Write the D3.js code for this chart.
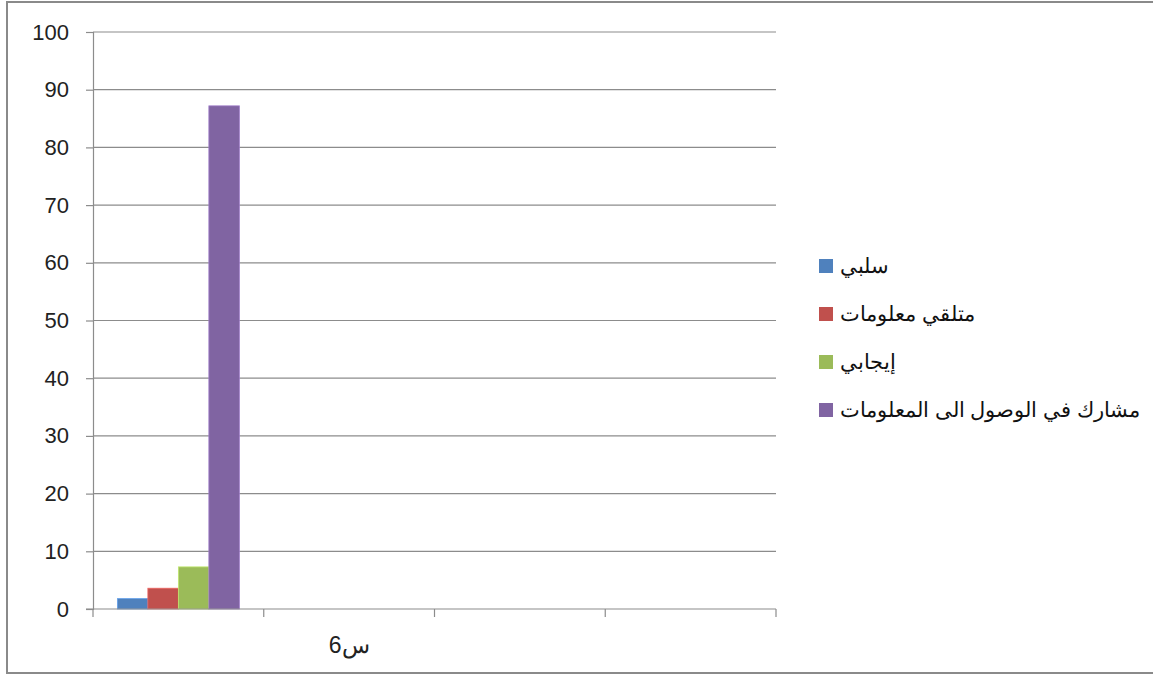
<!DOCTYPE html>
<html>
<head>
<meta charset="utf-8">
<script src="https://cdn.jsdelivr.net/npm/d3@7"></script>
<style>
  body { margin: 0; background: #fff; }
  svg { display: block; }
</style>
</head>
<body>
<svg width="1153" height="675"></svg>
<script>
// categories on the x axis (only the second one carries a label in the original)
var categories = ["", "س6", "", ""];
var seriesNames = ["سلبي", "متلقي معلومات", "إيجابي", "مشارك في الوصول الى المعلومات"];
var seriesColors = ["#4F81BD", "#C0504D", "#9BBB59", "#8064A2"];
// values of each series for the first category
var seriesValues = [1.8, 3.6, 7.3, 87.2];
var yTicks = [0, 10, 20, 30, 40, 50, 60, 70, 80, 90, 100];

var svg = d3.select("svg");

// outer chart frame
svg.append("rect")
  .attr("x", 7).attr("y", 2)
  .attr("width", 1160).attr("height", 671)
  .attr("fill", "none").attr("stroke", "#8a8a8a").attr("stroke-width", 2);

var plotLeft = 93, plotRight = 776, plotTop = 32, plotBottom = 609;

var x = d3.scaleBand().domain(d3.range(categories.length)).range([plotLeft, plotRight]).padding(0);
var y = d3.scaleLinear().domain([0, 100]).range([plotBottom, plotTop]);

// gridlines
svg.append("g").selectAll("line")
  .data(yTicks.filter(function(d) { return d > 0; }))
  .enter().append("line")
  .attr("x1", plotLeft).attr("x2", plotRight)
  .attr("y1", function(d) { return y(d); })
  .attr("y2", function(d) { return y(d); })
  .attr("stroke", "#8c8c8c").attr("stroke-width", 1.2);

// y axis
var yAxis = svg.append("g")
  .attr("transform", "translate(" + plotLeft + ",0)")
  .call(d3.axisLeft(y).tickValues(yTicks).tickSize(7).tickPadding(17));
yAxis.select(".domain").attr("stroke", "#8c8c8c").attr("stroke-width", 1.2);
yAxis.selectAll(".tick line").attr("stroke", "#8c8c8c").attr("stroke-width", 1.2);
yAxis.selectAll(".tick text")
  .attr("fill", "#222")
  .style("font-family", "'Liberation Sans', Arial, sans-serif")
  .style("font-size", "22px");

// bars
var inner = d3.scaleBand().domain(d3.range(seriesValues.length))
  .range([0, x.bandwidth()]).paddingInner(0).paddingOuter(0.8);

svg.append("g").selectAll("rect")
  .data(seriesValues)
  .enter().append("rect")
  .attr("x", function(d, i) { return x(0) + inner(i); })
  .attr("width", inner.bandwidth())
  .attr("y", function(d) { return y(d); })
  .attr("height", function(d) { return y(0) - y(d); })
  .attr("fill", function(d, i) { return seriesColors[i]; })
  .attr("stroke", function(d, i) { return d3.color(seriesColors[i]).brighter(0.6); })
  .attr("stroke-width", 0.8);

// x axis
var xLine = d3.scaleLinear().domain([0, categories.length]).range([plotLeft, plotRight]);
var xAxis = svg.append("g").attr("transform", "translate(0," + plotBottom + ")");
xAxis.append("line")
  .attr("x1", plotLeft - 7).attr("x2", plotRight)
  .attr("stroke", "#8c8c8c").attr("stroke-width", 1.2);
xAxis.selectAll(".tk")
  .data(d3.range(categories.length + 1))
  .enter().append("line")
  .attr("x1", function(d) { return xLine(d); })
  .attr("x2", function(d) { return xLine(d); })
  .attr("y1", 0).attr("y2", 8)
  .attr("stroke", "#8c8c8c").attr("stroke-width", 1.2);
xAxis.selectAll(".lbl")
  .data(categories)
  .enter().append("text")
  .attr("x", function(d, i) { return x(i) + x.bandwidth() / 2; })
  .attr("y", 44)
  .attr("text-anchor", "middle")
  .attr("direction", "rtl")
  .attr("fill", "#222")
  .style("font-family", "'Liberation Sans', Arial, sans-serif")
  .style("font-size", "23px")
  .text(function(d) { return d; });

// legend
var legend = svg.append("g").selectAll("g")
  .data(seriesNames)
  .enter().append("g")
  .attr("transform", function(d, i) { return "translate(819," + (266 + i * 48) + ")"; });
legend.append("rect")
  .attr("x", 0).attr("y", -7).attr("width", 14).attr("height", 14)
  .attr("fill", function(d, i) { return seriesColors[i]; });
legend.append("text")
  .attr("x", 21).attr("y", 7)
  .attr("fill", "#111")
  .style("font-family", "'Liberation Sans', Arial, sans-serif")
  .style("font-size", "20.6px")
  .text(function(d) { return d; });
</script>
</body>
</html>
